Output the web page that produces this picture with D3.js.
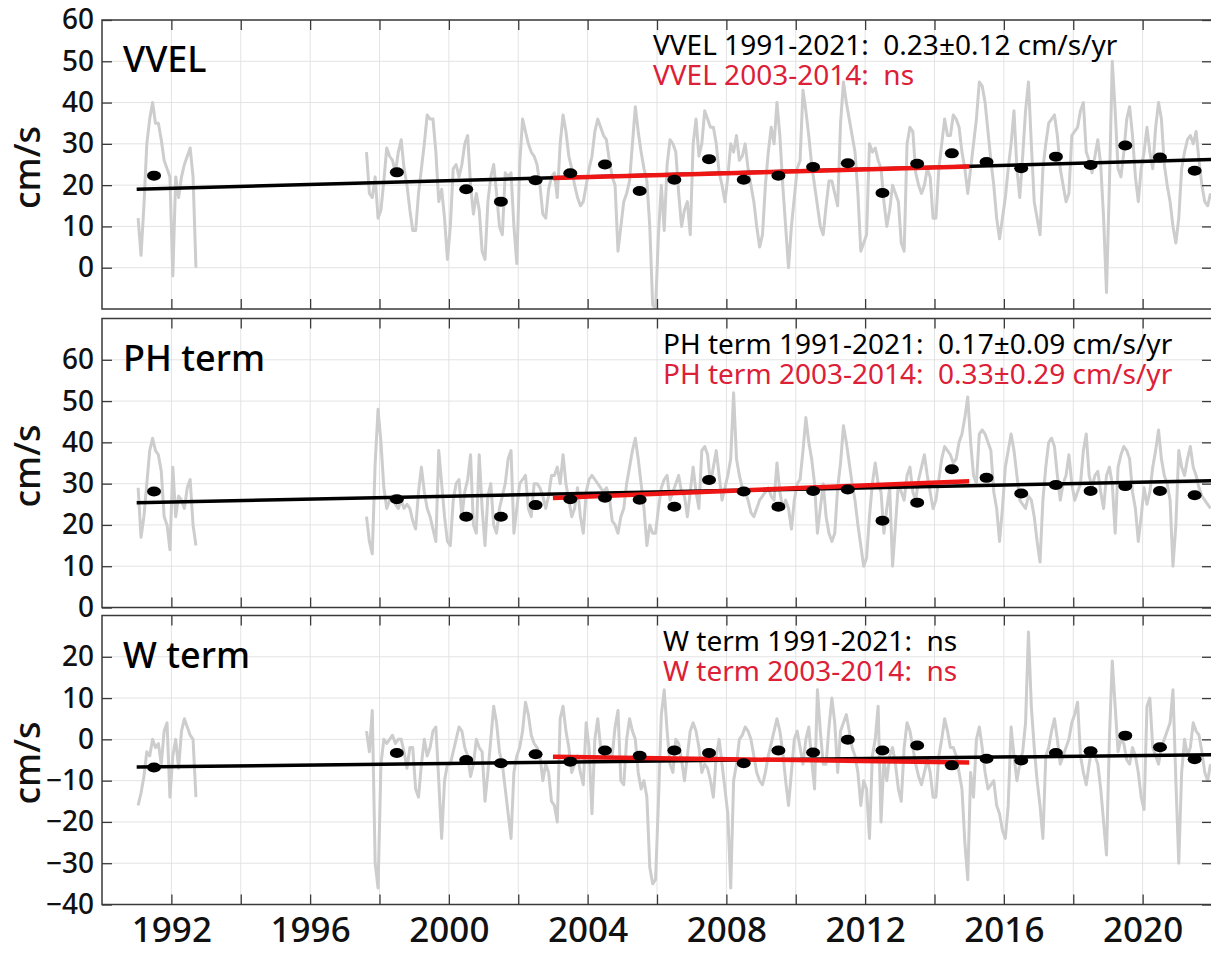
<!DOCTYPE html>
<html>
<head>
<meta charset="utf-8">
<script src="https://d3js.org/d3.v7.min.js"></script>
<style>
  body { margin: 0; background: #fff; }
  svg { display: block; font-family: "Noto Sans", sans-serif; }
  .grid line { stroke: #e3e3e3; stroke-width: 1; }
  .frame { fill: none; stroke: #3a3a3a; stroke-width: 1.5; }
  .axis path { display: none; }
  .axis line { stroke: #3a3a3a; stroke-width: 1.3; }
  .gray { fill: none; stroke: #cdcdcd; stroke-width: 3; stroke-linejoin: round; }
  .trend { fill: none; stroke: #000; stroke-width: 3.5; }
  .recent { fill: none; stroke: #ee1515; stroke-width: 4.5; }
</style>
</head>
<body>
<svg id="chart" width="1211" height="953"></svg>
<script>
// monthly series: early block starts Jan 1991, late block starts Aug 1997
const earlyStart = [1991, 1];
const lateStart = [1997, 8];

const vvelEarly = [12, 3, 15, 30, 36, 40, 35, 35, 31, 26, 24, 22, -2, 22, 17, 22, 25, 27, 29, 22, 0];
const vvelLate = [
  28, 18, 17, 22, 12,
  14, 21, 29, 27, 26, 23, 28, 31, 24, 20, 14, 9,
  9, 18, 24, 30, 37, 36, 36, 28, 16, 19, 12, 2,
  10, 24, 25, 22, 25, 30, 32, 20, 13, 18, 14, 4,
  2, 16, 22, 25, 18, 10, 8, 23, 22, 23, 10, 1,
  25, 36, 33, 30, 28, 27, 25, 20, 13, 12, 19, 22,
  23, 17, 30, 37, 33, 27, 24, 20, 17, 15, 16, 20,
  24, 27, 33, 36, 34, 32, 31, 26, 22, 20, 4, 10,
  16, 18, 21, 30, 39, 33, 28, 24, 21, 10, -9, -10,
  8, 20, 9, 25, 31, 30, 28, 18, 10, 14, 16, 8,
  30, 36, 27, 30, 38, 36, 34, 34, 30, 23, 20, 16,
  22, 30, 28, 32, 26, 27, 30, 24, 20, 16, 10, 5,
  8, 20, 28, 34, 30, 40, 32, 20, 10, 0, 10, 17,
  24, 26, 43, 38, 32, 25, 20, 15, 10, 8, 15, 21,
  21, 18, 15, 35, 45, 40, 36, 32, 28, 18, 4, 6,
  8, 30, 28, 29, 26, 24, 16, 10, 14, 20, 18, 16,
  6, 4, 30, 34, 33, 23, 20, 18, 20, 24, 22, 12,
  12, 24, 30, 36, 32, 32, 37, 36, 34, 28, 24, 18,
  24, 30, 36, 45, 44, 40, 33, 26, 20, 12, 7, 12,
  17, 24, 30, 38, 24, 17, 27, 38, 45, 30, 16, 12,
  8, 24, 30, 35, 36, 37, 32, 24, 20, 16, 18, 32,
  33, 34, 38, 40, 28, 26, 23, 27, 31, 25, 12, -6,
  20, 50, 38, 24, 22, 28, 36, 39, 32, 22, 16, 24,
  28, 34, 28, 24, 34, 40, 36, 25, 20, 16, 10, 6,
  12, 24, 28, 31, 32, 30, 33, 26, 20, 16, 15, 18
];

const phEarly = [29, 17, 22, 30, 38, 41, 38, 37, 33, 22, 20, 14, 34, 22, 27, 26, 24, 29, 31, 20, 15];
const phLate = [
  22, 16, 13, 35, 48,
  40, 29, 24, 26, 27, 25, 24, 26, 24, 25, 24, 21,
  19, 28, 34, 28, 24, 22, 19, 16, 38, 30, 22, 16,
  15, 26, 30, 31, 22, 28, 31, 37, 20, 18, 37, 24,
  15, 27, 30, 20, 18, 24, 27, 30, 36, 38, 18, 24,
  30, 31, 32, 24, 22, 30, 30, 29, 27, 24, 27, 32,
  32, 34, 30, 37, 30, 26, 22, 24, 29, 22, 18, 28,
  31, 32, 31, 30, 29, 28, 29, 27, 21, 20, 18, 22,
  24, 30, 34, 38, 41, 36, 30, 24, 15, 20, 18, 18,
  24, 29, 31, 32, 26, 28, 30, 32, 28, 27, 22, 28,
  34, 28, 24, 38, 39, 37, 30, 34, 38, 32, 26, 29,
  32, 36, 52, 36, 32, 29, 28, 26, 23, 22, 24, 26,
  27, 28, 29, 27, 26, 35, 28, 24, 26, 24, 19, 26,
  30, 31, 38, 46, 40, 36, 30, 18, 24, 30, 22, 18,
  16, 18, 29, 35, 44, 40, 35, 30, 26, 20, 15, 10,
  12, 22, 30, 35, 30, 28, 18, 24, 29, 10, 20, 30,
  28, 26, 32, 34, 28, 26, 31, 34, 37, 32, 28, 24,
  26, 31, 36, 39, 38, 37, 35, 36, 40, 42, 46, 51,
  40, 32, 30, 42, 43, 42, 40, 38, 28, 24, 16, 24,
  34, 38, 42, 38, 32, 26, 25, 24, 27, 26, 22, 16,
  11, 26, 34, 40, 41, 39, 32, 26, 30, 32, 37, 30,
  26, 28, 30, 38, 42, 32, 29, 32, 33, 28, 24, 32,
  34, 30, 18, 34, 37, 39, 38, 36, 28, 24, 16, 22,
  29, 25, 28, 34, 38, 43, 36, 32, 30, 26, 10, 20,
  38, 34, 32, 36, 39, 34, 32, 29, 27, 26, 25, 24
];

const wEarly = [-16, -13, -9, -3, -4, 0, -2, -1, -6, 2, 4, -14, -4, 0, -7, 2, 5, 3, 1, 0, -14];
const wLate = [
  2, -3, 7, -30, -36,
  -6, 0, -1, 0, 1, -1, 0, 0, -3, -7, -2, -2,
  -12, -14, -6, 0, -4, -2, 2, 3, -10, -24, -10, -6,
  -6, -3, 0, 3, 2, -2, -4, -9, -6, 0, -2, -3,
  -15, -8, 0, 8, 4, -3, -6, -12, -18, -24, -8, -4,
  -2, 2, 9, 6, 1, -1, -2, -4, -10, -6, -8, -15,
  -16, -20, 5, 8, 2, -2, -8, -6, -4, -8, -11, 4,
  -2, -18, 0, 5, -2, -4, -3, -4, -4, 3, 7, -10,
  -11, 0, 5, 2, 0, -8, -12, -10, -14, -31, -35, -34,
  -15, 6, 12, 2, -6, -8, 0, -1, -5, -10, -4, 2,
  4, 2, -2, -8, -6, -7, -10, -14, -4, 0, -6, -12,
  -18, -36, -10, -6, 0, 1, 3, 2, 0, -4, -8, -10,
  -11, -8, -4, -1, 2, 5, 2, -3, -10, -16, -8, 0,
  2, -2, -6, 0, 3, -5, -12, 12, 2, -6, -6, 3,
  10, 4, -8, 2, 4, 6, 2, -2, -4, -8, -16, -10,
  -12, -24, -4, 0, 8, -20, -5, -10, -4, -2, -6, -12,
  -15, -2, 4, 2, -2, -6, -9, -11, -8, -5, -8, -14,
  -14, -4, 0, 5, 2, -2, -2, -4, -8, -12, -25, -34,
  -8, -14, 0, 3, -2, -8, -12, -11, -10, -16, -18, -22,
  -24, -16, 3, -4, -10, -6, -3, 4, 26, 8, -2, -10,
  -16, -24, -4, -2, 2, 5, 0, -6, -4, -2, 0, 4,
  6, 9, -4, -8, -11, -6, -2, -4, -6, -12, -20, -28,
  0, 19, 8, -3, 0, -1, -5, -6, -2, -4, -8, -14,
  -17, 8, 10, -2, -4, -6, -2, 0, 2, 4, 12, -10,
  -30, -8, 0, -4, -2, 4, 2, 1, -3, -8, -10, -6
];

// annual means (plotted mid-year)
const meanYears = [1991, 1998, 2000, 2001, 2002, 2003, 2004, 2005, 2006, 2007, 2008, 2009,
  2010, 2011, 2012, 2013, 2014, 2015, 2016, 2017, 2018, 2019, 2020, 2021];
const vvelMeans = [22.3, 23.1, 19.0, 16.0, 21.2, 22.9, 25.0, 18.6, 21.3, 26.3, 21.3, 22.3,
  24.4, 25.3, 18.1, 25.2, 27.7, 25.6, 24.1, 26.9, 24.9, 29.6, 26.7, 23.5];
const phMeans = [28.1, 26.2, 22.0, 22.0, 24.8, 26.2, 26.6, 26.1, 24.4, 30.9, 28.1, 24.4,
  28.2, 28.6, 21.0, 25.4, 33.5, 31.4, 27.6, 29.7, 28.2, 29.4, 28.2, 27.2];
const wMeans = [-6.8, -3.3, -5.0, -5.8, -3.6, -5.4, -2.7, -4.0, -2.7, -3.3, -5.8, -2.7,
  -3.2, -0.1, -2.7, -1.5, -6.3, -4.7, -5.1, -3.3, -2.9, 0.9, -1.9, -4.8];

// linear trends: full record and 2003-2014
const trendSpan = [1991, 2022];
const recentSpan = [2003, 2015];
const vvelTrend = [19.0, 26.2], vvelRecent = [21.7, 24.5];
const phTrend = [25.4, 30.7], phRecent = [26.5, 30.6];
const wTrend = [-6.7, -3.7], wRecent = [-4.2, -5.6];

const titles = ["VVEL", "PH term", "W term"];
const notesAll = ["VVEL 1991-2021:  0.23\u00b10.12 cm/s/yr", "PH term 1991-2021:  0.17\u00b10.09 cm/s/yr", "W term 1991-2021:  ns"];
const notesRecent = ["VVEL 2003-2014:  ns", "PH term 2003-2014:  0.33\u00b10.29 cm/s/yr", "W term 2003-2014:  ns"];
const yDomains = [[-10, 60], [0, 70], [-40, 30]];
const yTicks = [[0, 10, 20, 30, 40, 50, 60], [0, 10, 20, 30, 40, 50, 60], [-40, -30, -20, -10, 0, 10, 20]];
const xTicks = d3.range(1992, 2021, 2);

function monthly(start, vals) {
  return vals.map((v, i) => ({ t: start[0] + (start[1] - 1 + i + 0.5) / 12, v: v }));
}

const panels = [
  { early: vvelEarly, late: vvelLate, means: vvelMeans, trend: vvelTrend, recent: vvelRecent },
  { early: phEarly, late: phLate, means: phMeans, trend: phTrend, recent: phRecent },
  { early: wEarly, late: wLate, means: wMeans, trend: wTrend, recent: wRecent }
];

const svg = d3.select("#chart");
const left = 102, right = 1212, panelH = 289;
const tops = [20, 318.5, 615.5];

const x = d3.scaleLinear().domain([1990, 2022]).range([left, right]);

panels.forEach((p, i) => {
  const top = tops[i];
  const y = d3.scaleLinear().domain(yDomains[i]).range([top + panelH, top]);
  const g = svg.append("g");

  g.append("clipPath").attr("id", "clip" + i)
    .append("rect")
    .attr("x", left).attr("y", top)
    .attr("width", right - left).attr("height", panelH);

  const grid = g.append("g").attr("class", "grid");
  grid.selectAll(".vx").data(xTicks).join("line")
    .attr("x1", d => x(d)).attr("x2", d => x(d))
    .attr("y1", top).attr("y2", top + panelH);
  grid.selectAll(".hy").data(yTicks[i]).join("line")
    .attr("x1", left).attr("x2", right)
    .attr("y1", d => y(d)).attr("y2", d => y(d));

  const line = d3.line().x(d => x(d.t)).y(d => y(d.v));
  const plot = g.append("g").attr("clip-path", "url(#clip" + i + ")");

  plot.append("path").attr("class", "gray").attr("d", line(monthly(earlyStart, p.early)));
  plot.append("path").attr("class", "gray").attr("d", line(monthly(lateStart, p.late)));

  plot.append("path").attr("class", "trend")
    .attr("d", line(trendSpan.map((t, k) => ({ t: t, v: p.trend[k] }))));
  plot.append("path").attr("class", "recent")
    .attr("d", line(recentSpan.map((t, k) => ({ t: t, v: p.recent[k] }))));

  plot.selectAll(".dot").data(p.means).join("ellipse")
    .attr("cx", (d, k) => x(meanYears[k] + 0.5))
    .attr("cy", d => y(d))
    .attr("rx", 7).attr("ry", 5)
    .attr("fill", "#000");

  g.append("rect").attr("class", "frame")
    .attr("x", left).attr("y", top)
    .attr("width", right - left).attr("height", panelH);

  // inward ticks on all four sides
  g.append("g").attr("class", "axis")
    .attr("transform", "translate(" + left + ",0)")
    .call(d3.axisLeft(y).tickValues(yTicks[i]).tickSize(-10).tickPadding(8))
    .call(a => a.selectAll("text").attr("font-size", 28).attr("fill", "#111")
      .attr("font-family", "Noto Sans").attr("font-weight", 500));
  g.append("g").attr("class", "axis")
    .attr("transform", "translate(" + right + ",0)")
    .call(d3.axisRight(y).tickValues(yTicks[i]).tickSize(-10).tickFormat(""));
  g.append("g").attr("class", "axis")
    .attr("transform", "translate(0," + top + ")")
    .call(d3.axisTop(x).tickValues(xTicks).tickSize(-10).tickFormat(""));
  g.append("g").attr("class", "axis")
    .attr("transform", "translate(0," + (top + panelH) + ")")
    .call(d3.axisBottom(x).tickValues(xTicks).tickSize(-10).tickPadding(13)
      .tickFormat(d => (i === 2 && d % 4 === 0) ? d : ""))
    .call(a => a.selectAll("text").attr("font-size", 35).attr("fill", "#111")
      .attr("font-family", "Noto Sans").attr("font-weight", 500));

  g.append("text")
    .attr("transform", "translate(40," + (top + panelH / 2 + 3) + ") rotate(-90)")
    .attr("text-anchor", "middle")
    .attr("font-size", 36)
    .attr("font-weight", 500)
    .attr("fill", "#111")
    .text("cm/s");

  g.append("text")
    .attr("x", 123).attr("y", top + 52)
    .attr("font-size", 36)
    .attr("font-weight", 500)
    .attr("fill", "#000")
    .text(titles[i]);

  // both trend notes in one text block, two lines
  const nx = i === 0 ? 653 : 663;
  const note = g.append("text")
    .attr("x", nx).attr("y", top + 35)
    .attr("font-size", 28)
    .style("white-space", "pre");
  note.append("tspan")
    .attr("x", nx)
    .attr("fill", "#000")
    .text(notesAll[i]);
  note.append("tspan")
    .attr("x", nx).attr("dy", 30)
    .attr("fill", "#dc2038")
    .text(notesRecent[i]);
});
</script>
</body>
</html>
